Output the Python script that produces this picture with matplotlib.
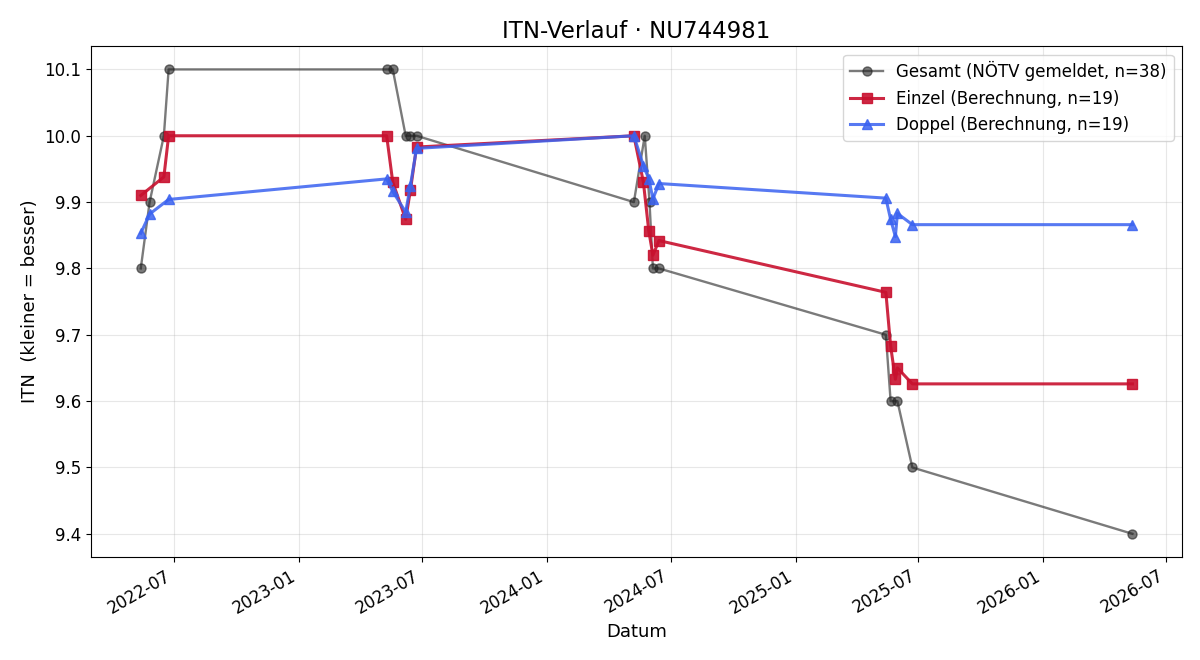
import pandas as pd
import matplotlib
matplotlib.use("Agg")
import matplotlib.pyplot as plt
import matplotlib.dates as mdates

# Gesamt (NÖTV gemeldet)
gesamt_dates = ["2022-05-13", "2022-05-26", "2022-06-16", "2022-06-23",
                "2023-05-10", "2023-05-19", "2023-06-07", "2023-06-14", "2023-06-23",
                "2024-05-08", "2024-05-24", "2024-05-31", "2024-06-05", "2024-06-14",
                "2025-05-14", "2025-05-21", "2025-05-31", "2025-06-22", "2026-05-12"]
gesamt_itn = [9.8, 9.9, 10.0, 10.1,
              10.1, 10.1, 10.0, 10.0, 10.0,
              9.9, 10.0, 9.9, 9.8, 9.8,
              9.7, 9.6, 9.6, 9.5, 9.4]

# Einzel (Berechnung)
einzel_dates = ["2022-05-13", "2022-06-16", "2022-06-23",
                "2023-05-10", "2023-05-19", "2023-06-07", "2023-06-14", "2023-06-23",
                "2024-05-08", "2024-05-22", "2024-05-30", "2024-06-05", "2024-06-14",
                "2025-05-14", "2025-05-21", "2025-05-28", "2025-05-31", "2025-06-22", "2026-05-12"]
einzel_itn = [9.91, 9.938, 10.0,
              10.0, 9.93, 9.874, 9.918, 9.983,
              10.0, 9.93, 9.856, 9.82, 9.842,
              9.764, 9.683, 9.633, 9.65, 9.626, 9.626]

# Doppel (Berechnung)
doppel_dates = ["2022-05-13", "2022-05-26", "2022-06-23",
                "2023-05-10", "2023-05-19", "2023-06-07", "2023-06-14", "2023-06-23",
                "2024-05-08", "2024-05-22", "2024-05-30", "2024-06-05", "2024-06-14",
                "2025-05-14", "2025-05-21", "2025-05-28", "2025-05-31", "2025-06-22", "2026-05-12"]
doppel_itn = [9.853, 9.882, 9.904,
              9.935, 9.916, 9.885, 9.925, 9.981,
              10.0, 9.955, 9.935, 9.905, 9.928,
              9.906, 9.874, 9.848, 9.883, 9.866, 9.866]

fig, ax = plt.subplots(figsize=(12, 6.6), dpi=100)

ax.plot(pd.to_datetime(gesamt_dates), gesamt_itn, marker="o", color="#222222",
        alpha=0.6, linewidth=1.7, markersize=6.5, label="Gesamt (NÖTV gemeldet, n=38)")
ax.plot(pd.to_datetime(einzel_dates), einzel_itn, marker="s", color="#c8102e",
        alpha=0.9, linewidth=2.2, markersize=7, label="Einzel (Berechnung, n=19)")
ax.plot(pd.to_datetime(doppel_dates), doppel_itn, marker="^", color="#3a62f0",
        alpha=0.85, linewidth=2.2, markersize=7, label="Doppel (Berechnung, n=19)")

ax.set_title("ITN-Verlauf · NU744981", fontsize=16.5)
ax.set_xlabel("Datum", fontsize=13)
ax.set_ylabel("ITN  (kleiner = besser)", fontsize=13)
ax.grid(True, alpha=0.3)
ax.legend(loc="upper right", fontsize=12)
ax.tick_params(labelsize=12)

ax.xaxis.set_major_locator(mdates.MonthLocator(bymonth=[1, 7]))
ax.xaxis.set_major_formatter(mdates.DateFormatter("%Y-%m"))
fig.autofmt_xdate()

fig.subplots_adjust(left=0.076, right=0.985, top=0.930, bottom=0.156)
fig.savefig("out.png")
